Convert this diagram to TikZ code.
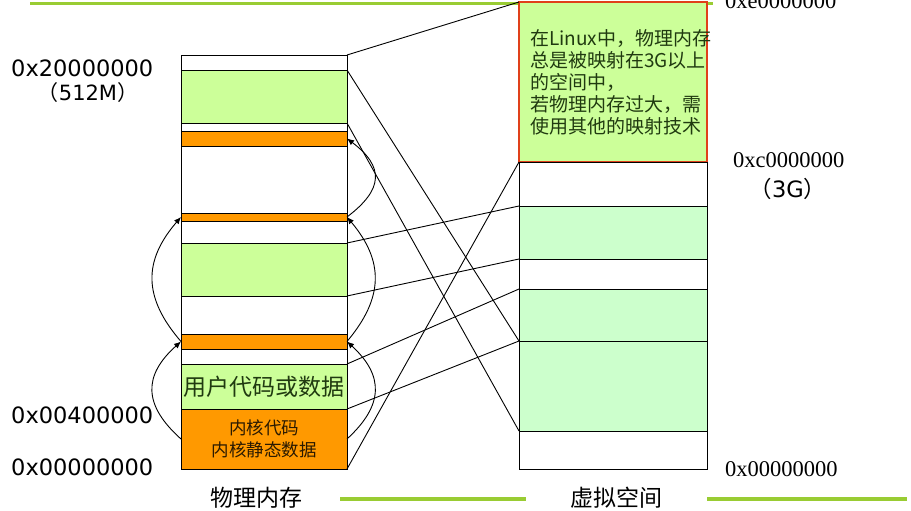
\documentclass[tikz,border=0pt]{standalone}
\usepackage{fontspec}
\setmainfont{DejaVu Sans}
\newfontfamily\cjk{Noto Sans CJK SC}
\newfontfamily\serifnum{Liberation Serif}
\usetikzlibrary{arrows.meta,calc}
\definecolor{lgreen}{HTML}{CCFF99}
\definecolor{mint}{HTML}{CCFFCC}
\definecolor{orng}{HTML}{FF9900}
\definecolor{deco}{HTML}{99CC33}
\definecolor{redb}{HTML}{E0401A}
\definecolor{notetext}{HTML}{203A10}
\definecolor{kerntext}{HTML}{2A1A00}
\tikzset{
  mem/.style={draw=black, line width=0.9pt, inner sep=0pt, outer sep=0pt, anchor=north west},
  lcell/.style={mem, minimum width=166pt},
  rcell/.style={mem, minimum width=188pt},
  maplink/.style={draw=black, line width=0.9pt},
  bendarrow/.style={draw=black, line width=0.9pt, -{Latex[length=7pt,width=6pt]}},
  decoline/.style={draw=deco, line width=3.5pt},
  addr/.style={font=\fontsize{22.5}{26}\selectfont, inner sep=0pt, anchor=base west},
  saddr/.style={font=\serifnum\fontsize{22.5}{26}\selectfont, inner sep=0pt, anchor=base west},
  captext/.style={font=\cjk\fontsize{23}{27}\selectfont, inner sep=0pt}
}
\begin{document}
\begin{tikzpicture}[x=1pt,y=-1pt]
\useasboundingbox (0,0) rectangle (911,511);
% decorative lines
\coordinate (d1a) at (30,3.5); \coordinate (d1b) at (713,3.5);
\coordinate (d2a) at (340,499); \coordinate (d2b) at (526,499);
\coordinate (d3a) at (707,499); \coordinate (d3b) at (907,499);
\draw[decoline] (d1a) -- (d1b);
\draw[decoline] (d2a) -- (d2b);
\draw[decoline] (d3a) -- (d3b);
% physical memory column
\node[lcell, minimum height=15pt, fill=white] (L1) at (181,55) {};
\node[lcell, minimum height=53pt, fill=lgreen] (L2) at (181,70) {};
\node[lcell, minimum height=8pt, fill=white] (L3) at (181,123) {};
\node[lcell, minimum height=15pt, fill=orng] (L4) at (181,131) {};
\node[lcell, minimum height=67pt, fill=white] (L5) at (181,146) {};
\node[lcell, minimum height=8pt, fill=orng] (L6) at (181,213) {};
\node[lcell, minimum height=22pt, fill=white] (L7) at (181,221) {};
\node[lcell, minimum height=53pt, fill=lgreen] (L8) at (181,243) {};
\node[lcell, minimum height=38pt, fill=white] (L9) at (181,296) {};
\node[lcell, minimum height=15pt, fill=orng] (L10) at (181,334) {};
\node[lcell, minimum height=15pt, fill=white] (L11) at (181,349) {};
\node[lcell, minimum height=45pt, fill=lgreen, font=\cjk\fontsize{23}{27}\selectfont, text=notetext] (L12) at (181,364) {用户代码或数据};
\node[lcell, minimum height=60pt, fill=orng, align=center, font=\cjk\fontsize{17.5}{21.5}\selectfont, text=kerntext] (L13) at (181,409) {内核代码\\内核静态数据};
% virtual space column
\node[rcell, minimum height=160pt, fill=lgreen, draw=redb, line width=1.1pt] (R1) at (519,2) {};
\node[rcell, minimum height=44pt, fill=white] (R2) at (519,162) {};
\node[rcell, minimum height=53pt, fill=mint] (R3) at (519,206) {};
\node[rcell, minimum height=30pt, fill=white] (R4) at (519,259) {};
\node[rcell, minimum height=52pt, fill=mint] (R5) at (519,289) {};
\node[rcell, minimum height=90pt, fill=mint] (R6) at (519,341) {};
\node[rcell, minimum height=38pt, fill=white] (R7) at (519,431) {};
\node[anchor=north west, inner sep=0pt, align=left, font=\cjk\fontsize{19}{22}\selectfont, text=notetext] (note) at (530,29)
  {在Linux中，物理内存\\总是被映射在3G以上\\的空间中，\\若物理内存过大，需\\使用其他的映射技术};
% mapping lines
\draw[maplink] (L1.north east) -- (R1.north west);
\draw[maplink] (L2.north east) -- (R6.north west);
\draw[maplink] (L2.south east) -- (R6.south west);
\draw[maplink] (R1.south west) -- (L13.south east);
\draw[maplink] (L8.north east) -- (R3.north west);
\draw[maplink] (L8.south east) -- (R3.south west);
\draw[maplink] (L12.north east) -- (R5.north west);
\draw[maplink] (L12.south east) -- (R5.south west);
% arcs on the right
\draw[bendarrow] (L13.east) .. controls +(37,-34) and +(37,34) .. (L10.east);
\draw[bendarrow] (L10.east) .. controls +(37,-44) and +(37,44) .. (L6.east);
\draw[bendarrow] (L6.east) .. controls +(37,-28) and +(37,28) .. (L4.east);
% arcs on the left
\draw[bendarrow] (L13.west) .. controls +(-38,-34) and +(-38,34) .. (L10.west);
\draw[bendarrow] (L10.west) .. controls +(-38,-44) and +(-38,44) .. (L6.west);
% address labels
\node[addr] (a1) at (11,77) {0x20000000};
\node[anchor=base, inner sep=0pt, font=\fontsize{21}{24}\selectfont] (a1b) at (88,101) {{\cjk （}512M{\cjk ）}};
\node[addr] (a2) at (11,423) {0x00400000};
\node[addr] (a3) at (11,475) {0x00000000};
\node[saddr] (b1) at (725,9) {0xe0000000};
\node[saddr] (b2) at (733,167) {0xc0000000};
\node[anchor=base, inner sep=0pt, font=\fontsize{22.5}{26}\selectfont] (b2b) at (788,197) {{\cjk （}3G{\cjk ）}};
\node[saddr] (b3) at (725,476) {0x00000000};
% captions
\node[captext] (c1) at (256,498) {物理内存};
\node[captext] (c2) at (616,498) {虚拟空间};
\end{tikzpicture}
\end{document}
